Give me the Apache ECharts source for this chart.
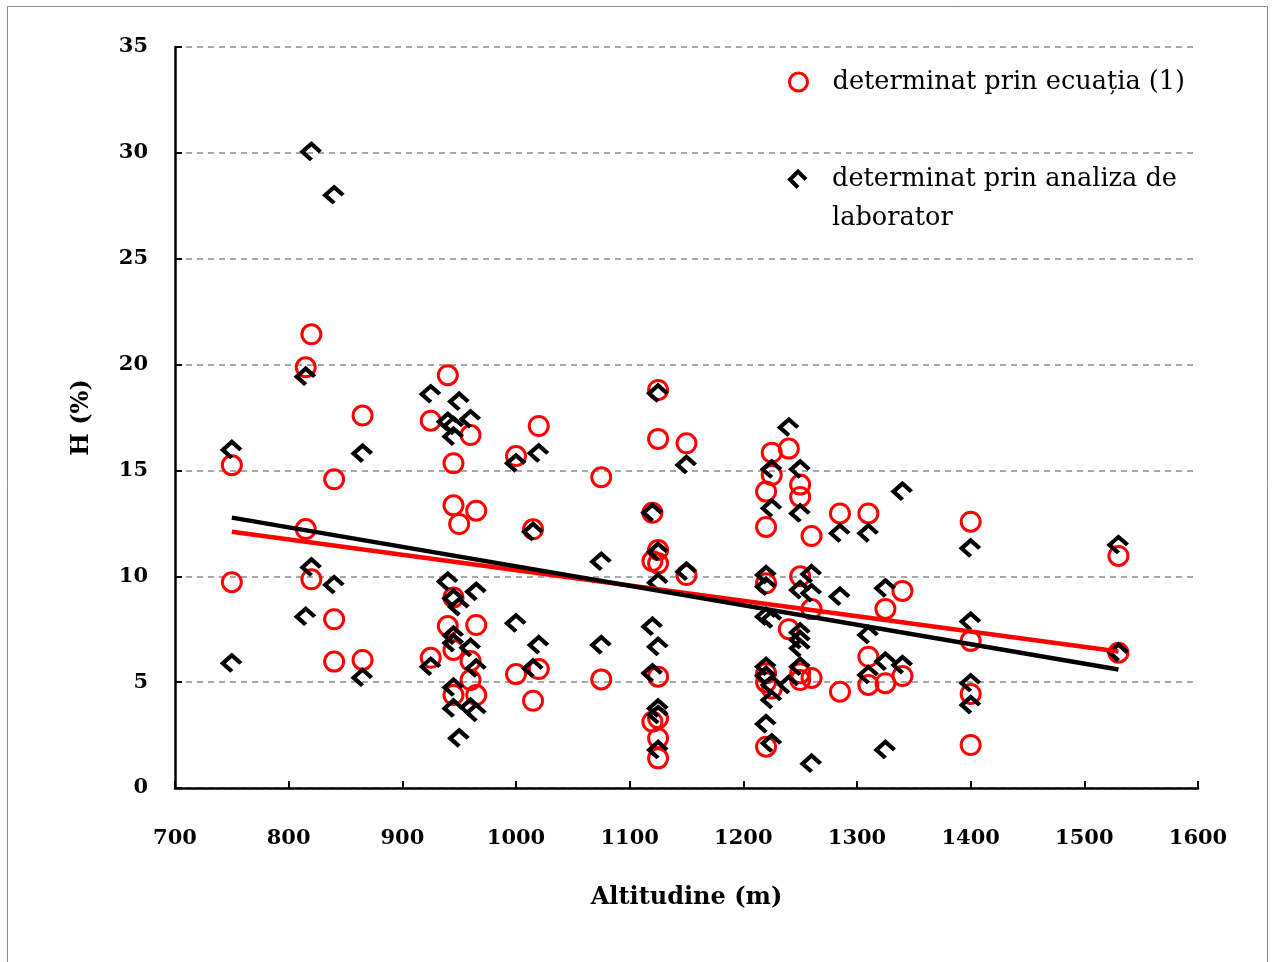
<!DOCTYPE html>
<html>
<head>
<meta charset="utf-8">
<script src="https://cdn.jsdelivr.net/npm/echarts@6/dist/echarts.min.js"></script>
<style>html,body{margin:0;padding:0;background:#fff;}#chart{width:1276px;height:962px;}</style>
</head>
<body>
<div id="chart"></div>
<script>
// ---- data ----
const nameEq = 'determinat prin ecuația (1)';
const nameLab = 'determinat prin analiza de laborator';
const xTicks = [700, 800, 900, 1000, 1100, 1200, 1300, 1400, 1500, 1600];
const yTicks = [0, 5, 10, 15, 20, 25, 30, 35];

// red circles: H determined by equation (1)
const eqAlt = [750,750, 815,815, 820,820, 840,840,840, 865,865, 925,925, 940,940,
  945,945,945,945,945, 950, 960,960,960, 965,965,965, 1000,1000, 1015,1015, 1020,1020,
  1075,1075, 1120,1120,1120, 1125,1125,1125,1125,1125,1125,1125,1125, 1150,1150,
  1220,1220,1220,1220,1220,1220, 1225,1225,1225, 1240,1240, 1250,1250,1250,1250,1250,
  1260,1260,1260, 1285,1285, 1310,1310,1310, 1325,1325, 1340,1340, 1400,1400,1400,1400, 1530,1530];
const eqH = [15.25,9.72, 19.87,12.23, 21.43,9.86, 14.58,7.97,5.97, 17.59,6.05, 17.35,6.15, 19.5,7.65,
  15.34,13.35,9.0,6.52,4.39, 12.47, 16.67,6.0,5.1, 13.1,7.7,4.39, 15.68,5.38, 12.22,4.12, 17.1,5.62,
  14.68,5.13, 13.0,10.72,3.13, 18.8,16.49,11.24,10.61,5.26,3.29,2.35,1.4, 16.28,10.06,
  14.0,12.33,9.67,5.42,5.0,1.95, 15.84,14.78,4.7, 16.03,7.5, 14.33,13.75,10.0,5.42,5.1,
  11.9,8.45,5.2, 12.97,4.55, 12.97,6.2,4.87, 8.46,4.95, 9.31,5.29, 12.58,6.95,4.44,2.03, 10.96,6.39];

// black markers: H determined by laboratory analysis
const labAlt = [750,750, 815,815, 820,820, 840,840, 865,865, 925,925, 940,940,
  945,945,945,945,945,945,945, 950,950,950, 960,960,960, 965,965,965, 1000,1000, 1015,1015, 1020,1020,
  1075,1075, 1120,1120,1120, 1125,1125,1125,1125,1125,1125,1125, 1150,1150,
  1220,1220,1220,1220,1220,1220, 1225,1225,1225,1225,1225,1225, 1240,1240,
  1250,1250,1250,1250,1250,1250,1250, 1260,1260,1260, 1285,1285, 1310,1310,1310, 1325,1325,1325,
  1340,1340, 1400,1400,1400,1400, 1530,1530];
const labH = [15.97,5.89, 19.43,8.09, 30.05,10.42, 28.0,9.59, 15.8,5.21, 18.6,5.73, 17.3,9.75,
  17.1,16.6,8.95,7.2,6.85,4.75,3.76, 18.25,8.55,2.35, 17.42,6.62,3.8, 9.27,5.65,3.55, 15.34,7.78, 12.1,5.65, 15.81,6.75,
  10.69,6.75, 13.0,7.62,5.42, 18.64,11.16,9.7,6.67,3.76,3.45,1.8, 15.26,10.22,
  10.06,9.51,8.09,5.73,5.3,3.02, 15.05,13.21,7.97,4.87,4.16,2.11, 17.03,4.87,
  15.05,12.97,9.35,7.35,6.99,6.6,5.73, 10.1,9.2,1.15, 12.03,9.04, 12.03,7.23,5.34, 9.43,5.97,1.8,
  14.0,5.81, 11.32,7.86,4.95,3.92, 11.48,6.4];

// linear trend lines (end points)
const trendAlt = [750, 1530];
const trendEqH = [12.1, 6.45];
const trendLabH = [12.77, 5.6];

// ---- chart ----
const pairs = (xs, ys) => xs.map((x, i) => [x, ys[i]]);
const chevron = 'path://M10,20 L0,10 L10,0 L20,10';
const serif = 'DejaVu Serif';

const chart = echarts.init(document.getElementById('chart'), null, {renderer: 'canvas'});
chart.setOption({
  backgroundColor: '#fff',
  animation: false,
  graphic: [{
    type: 'rect', silent: true, z: -10,
    shape: {x: 7.5, y: 6.5, width: 1260, height: 1000},
    style: {fill: '#fff', stroke: '#8a8a8a', lineWidth: 1}
  }],
  grid: {left: 175, right: 78, top: 47, bottom: 174, containLabel: false},
  xAxis: {
    type: 'value', min: xTicks[0], max: xTicks[xTicks.length - 1], interval: 100,
    name: 'Altitudine (m)', nameLocation: 'middle', nameGap: 98,
    nameTextStyle: {fontFamily: serif, fontWeight: 'bold', fontSize: 24, color: '#000'},
    axisLine: {show: true, onZero: false, lineStyle: {color: '#000', width: 2.5}},
    axisTick: {show: true, inside: true, length: 7, lineStyle: {color: '#000', width: 2}},
    axisLabel: {margin: 40, fontFamily: serif, fontWeight: 'bold', fontSize: 21, color: '#000',
      formatter: v => String(v)},
    splitLine: {show: false}
  },
  yAxis: {
    type: 'value', min: yTicks[0], max: yTicks[yTicks.length - 1], interval: 5,
    name: 'H (%)', nameLocation: 'middle', nameGap: 81, nameRotate: 90,
    nameTextStyle: {fontFamily: serif, fontWeight: 'bold', fontSize: 24, color: '#000'},
    axisLine: {show: true, onZero: false, lineStyle: {color: '#000', width: 2.5}},
    axisTick: {show: true, inside: true, length: 7, lineStyle: {color: '#000', width: 2}},
    axisLabel: {margin: 27, fontFamily: serif, fontWeight: 'bold', fontSize: 21, color: '#000',
      formatter: v => String(v)},
    splitLine: {show: true, lineStyle: {color: '#8c8c8c', width: 1.5, type: [6, 5]}}
  },
  legend: [{
    data: [nameEq], orient: 'vertical', left: 788, top: 63, padding: 0,
    itemWidth: 18, itemHeight: 18,
    textStyle: {fontFamily: serif, fontSize: 25.6, color: '#000', lineHeight: 38, padding: [0, 0, 0, 20]},
    itemStyle: {borderWidth: 3}
  }, {
    data: [nameLab], orient: 'vertical', left: 788, top: 121, padding: 0,
    itemWidth: 18, itemHeight: 16,
    formatter: () => '\ndeterminat prin analiza de\nlaborator',
    textStyle: {fontFamily: serif, fontSize: 25.6, color: '#000', lineHeight: 39, padding: [0, 0, 0, 20]},
    itemStyle: {borderWidth: 4}
  }],
  series: [{
    name: nameEq, type: 'scatter', z: 2,
    data: pairs(eqAlt, eqH),
    symbol: 'circle', symbolSize: 19,
    itemStyle: {color: 'rgba(0,0,0,0)', borderColor: '#ff0000', borderWidth: 3, opacity: 1}
  }, {
    name: nameLab, type: 'scatter', z: 3,
    data: pairs(labAlt, labH),
    symbol: chevron, symbolSize: [18, 16],
    itemStyle: {color: 'rgba(0,0,0,0)', borderColor: '#000', borderWidth: 4.2, borderJoin: 'miter', borderCap: 'butt', opacity: 1}
  }, {
    name: 'trend_eq', type: 'line', z: 4,
    data: pairs(trendAlt, trendEqH), symbol: 'none', silent: true,
    lineStyle: {color: '#ff0000', width: 4.5}
  }, {
    name: 'trend_lab', type: 'line', z: 5,
    data: pairs(trendAlt, trendLabH), symbol: 'none', silent: true,
    lineStyle: {color: '#000', width: 4.5}
  }]
});
</script>
</body>
</html>
